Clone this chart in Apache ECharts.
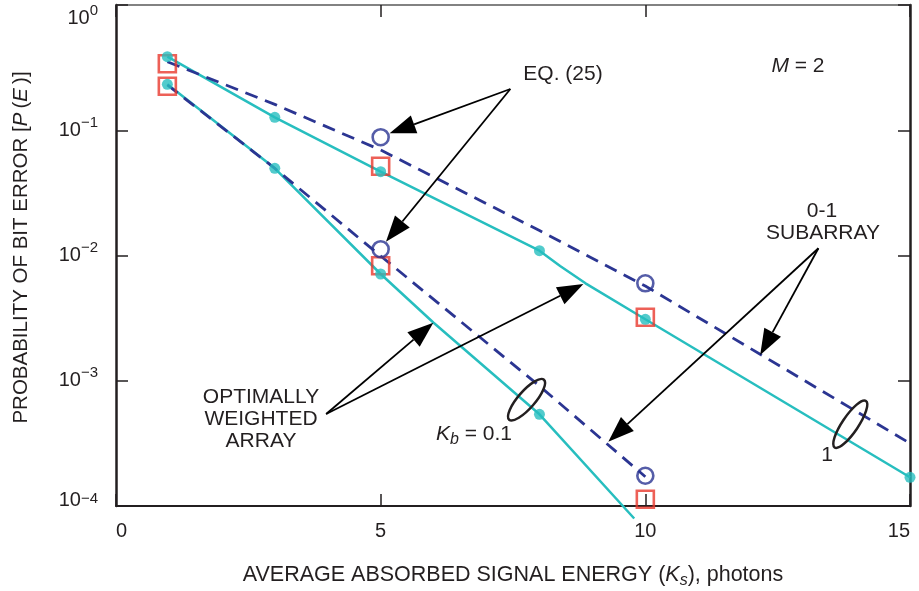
<!DOCTYPE html>
<html>
<head>
<meta charset="utf-8">
<title>Probability of bit error, M = 2</title>
<script src="https://cdn.jsdelivr.net/npm/echarts@6/dist/echarts.min.js"></script>
<style>
  html, body { margin: 0; padding: 0; background: #fff; }
  #chart { width: 919px; height: 591px; }
</style>
</head>
<body>
<div id="chart"></div>
<script>
// Optimally weighted array, Kb = 1 (solid curve) and its computed points
const xOptK1 = [0.97, 3, 5, 8, 8.39, 8.87, 10, 15];
const pOptK1 = [0.3867, 0.1269, 0.04668, 0.01092, 0.008245, 0.005998, 0.003095, 1.695e-4];
const xOptK1Pts = [0.97, 3, 5, 8, 10, 15];
const pOptK1Pts = [0.3867, 0.1269, 0.04668, 0.01092, 0.003095, 1.695e-4];

// Optimally weighted array, Kb = 0.1
const xOptK01 = [0.97, 3, 5, 6, 8, 9.79];
const pOptK01 = [0.2327, 0.04968, 0.007117, 0.002906, 5.398e-4, 7.945e-5];
const xOptK01Pts = [0.97, 3, 5, 8];
const pOptK01Pts = [0.2327, 0.04968, 0.007117, 5.398e-4];

// 0-1 subarray (dashed), Kb = 1 and Kb = 0.1
const xSubK1 = [0.97, 3, 5, 8, 10, 15];
const pSubK1 = [0.3526, 0.1609, 0.06956, 0.01583, 0.005706, 3.166e-4];
const xSubK01 = [0.97, 3, 5, 8, 10];
const pSubK01 = [0.2298, 0.04968, 0.009908, 9.08e-4, 1.714e-4];

// Eq. (25) evaluations (open circles)
const xEq25 = [5, 5, 10, 10];
const pEq25 = [0.08801, 0.01123, 0.005998, 1.745e-4];

// Open squares
const xSquares = [0.97, 0.97, 5, 5, 10, 10];
const pSquares = [0.3393, 0.2247, 0.05155, 0.008289, 0.003211, 1.131e-4];

// Axis ranges and tick values
const xTicks = [0, 5, 10, 15];
const yDecades = [1e-4, 1e-3, 1e-2, 1e-1, 1];

const FONT = '"Liberation Sans", Arial, Helvetica, sans-serif';
const INK = '#231F20';
const CYAN = '#27BEBF';
const NAVY = '#2B3592';
const RED = '#E8382D';

const pairs = (xs, ps) => xs.map((x, i) => [x, ps[i]]);

// Decade labels as 10 with a raised exponent; the end labels are nudged inside the frame
function decadeLabel(v) {
  const e = Math.round(Math.log10(v));
  const exp = e < 0 ? '\u2212' + (-e) : String(e);
  if (v <= yDecades[0] * 1.0001) return '{bLo|10}{sLo|' + exp + '}';
  if (v >= yDecades[yDecades.length - 1] * 0.9999) return '{gap| }\n{b|10}{s|' + exp + '}';
  return '{b|10}{s|' + exp + '}';
}

const tickStyle = { inside: true, length: 12, lineStyle: { color: INK, width: 1.5 } };
const supBase = { fontFamily: FONT, fontSize: 15, lineHeight: 15, verticalAlign: 'top', color: INK };
const numBase = { fontFamily: FONT, fontSize: 20, lineHeight: 30, color: INK };

const chart = echarts.init(document.getElementById('chart'), null, { renderer: 'canvas' });

chart.setOption({
  animation: false,
  backgroundColor: '#fff',
  grid: {
    left: 116, top: 5, width: 794, height: 501,
    containLabel: false, outerBoundsMode: 'none'
  },
  xAxis: [{
    type: 'value', position: 'bottom',
    min: xTicks[0], max: xTicks[xTicks.length - 1], interval: 5,
    axisLine: { show: true, onZero: false, lineStyle: { color: INK, width: 2 } },
    axisTick: tickStyle,
    splitLine: { show: false },
    axisLabel: {
      fontFamily: FONT, fontSize: 20, color: INK, margin: 15, lineHeight: 20,
      alignMinLabel: 'left', alignMaxLabel: 'right'
    },
    name: 'AVERAGE ABSORBED SIGNAL ENERGY ({i|K}{sub|s}), photons',
    nameLocation: 'middle', nameGap: 55,
    nameTextStyle: {
      fontFamily: FONT, fontSize: 21.5, color: INK, lineHeight: 28,
      rich: {
        i: { fontFamily: FONT, fontSize: 21.5, fontStyle: 'italic', lineHeight: 28, color: INK },
        sub: { fontFamily: FONT, fontSize: 16, fontStyle: 'italic', lineHeight: 15, verticalAlign: 'bottom', color: INK }
      }
    }
  }, {
    type: 'value', position: 'top',
    min: xTicks[0], max: xTicks[xTicks.length - 1], interval: 5,
    axisLine: { show: true, onZero: false, lineStyle: { color: '#5a5a5a', width: 1.5 } },
    axisTick: tickStyle,
    axisLabel: { show: false },
    splitLine: { show: false }
  }],
  yAxis: [{
    type: 'log', logBase: 10, position: 'left',
    min: yDecades[0], max: yDecades[yDecades.length - 1],
    axisLine: { show: true, onZero: false, lineStyle: { color: INK, width: 2.5 } },
    axisTick: tickStyle,
    minorTick: { show: false },
    splitLine: { show: false },
    axisLabel: {
      margin: 18,
      formatter: decadeLabel,
      rich: {
        b: numBase,
        s: supBase,
        bLo: Object.assign({}, numBase, { padding: [0, 0, 12, 0] }),
        sLo: supBase,
        gap: { fontFamily: FONT, fontSize: 2, lineHeight: 26, color: INK }
      }
    },
    name: 'PROBABILITY OF BIT ERROR [{i|P}\u2009({i|E}\u2009)]',
    nameLocation: 'middle', nameRotate: 90, nameGap: 84,
    nameTextStyle: {
      fontFamily: FONT, fontSize: 20.5, color: INK, padding: [0, 0, 0, 16],
      rich: { i: { fontFamily: FONT, fontSize: 20.5, fontStyle: 'italic', color: INK } }
    }
  }, {
    type: 'log', logBase: 10, position: 'right',
    min: yDecades[0], max: yDecades[yDecades.length - 1],
    axisLine: { show: true, onZero: false, lineStyle: { color: INK, width: 2.5 } },
    axisTick: tickStyle,
    minorTick: { show: false },
    axisLabel: { show: false },
    splitLine: { show: false }
  }],
  series: [
    {
      name: 'Optimally weighted, Kb = 1', type: 'line', z: 2, clip: false,
      data: pairs(xOptK1, pOptK1), showSymbol: false, symbol: 'none',
      lineStyle: { color: CYAN, width: 2.5 }
    },
    {
      name: 'Optimally weighted, Kb = 0.1', type: 'line', z: 2, clip: false,
      data: pairs(xOptK01, pOptK01), showSymbol: false, symbol: 'none',
      lineStyle: { color: CYAN, width: 2.5 }
    },
    {
      name: '0-1 subarray, Kb = 1', type: 'line', z: 3, clip: false,
      data: pairs(xSubK1, pSubK1), showSymbol: false, symbol: 'none',
      lineStyle: { color: NAVY, width: 2.8, type: [13, 8] }
    },
    {
      name: '0-1 subarray, Kb = 0.1', type: 'line', z: 3, clip: false,
      data: pairs(xSubK01, pSubK01), showSymbol: false, symbol: 'none',
      lineStyle: { color: NAVY, width: 2.8, type: [13, 8] }
    },
    {
      name: 'Squares', type: 'scatter', z: 4, clip: false,
      data: pairs(xSquares, pSquares), symbol: 'rect', symbolSize: 17,
      itemStyle: { color: 'rgba(0,0,0,0)', borderColor: RED, borderWidth: 2.6 }
    },
    {
      name: 'Eq. (25)', type: 'scatter', z: 4, clip: false,
      data: pairs(xEq25, pEq25), symbol: 'circle', symbolSize: 16,
      itemStyle: { color: 'rgba(0,0,0,0)', borderColor: NAVY, borderWidth: 2.6 }
    },
    {
      name: 'Kb = 1 points', type: 'scatter', z: 5, clip: false,
      data: pairs(xOptK1Pts, pOptK1Pts), symbol: 'circle', symbolSize: 11,
      itemStyle: { color: CYAN }
    },
    {
      name: 'Kb = 0.1 points', type: 'scatter', z: 5, clip: false,
      data: pairs(xOptK01Pts, pOptK01Pts), symbol: 'circle', symbolSize: 11,
      itemStyle: { color: CYAN }
    }
  ]
});

// ---- annotations: leader arrows, curve-pair ellipses and labels ----
const toPx = (pt) => chart.convertToPixel({ xAxisIndex: 0, yAxisIndex: 0 }, pt);

// arrows in data coordinates: [from, to]
const arrows = [
  [[7.45, 0.2135], [5.17, 0.09454]],
  [[7.45, 0.2135], [5.10, 0.01289]],
  [[13.27, 0.01142], [12.17, 0.001605]],
  [[13.27, 0.01142], [9.30, 3.262e-4]],
  [[3.97, 5.427e-4], [5.995, 0.002907]],
  [[3.97, 5.427e-4], [8.83, 0.005922]]
];
// ellipses grouping each pair of curves: center (data), semi-axes, tilt in degrees
const rings = [
  { at: [7.756, 7.059e-4], rx: 26.5, ry: 8.5, tilt: 49 },
  { at: [13.872, 4.498e-4], rx: 28, ry: 8, tilt: 56 }
];

const graphics = [];
const HEAD_LEN = 26, HEAD_W = 19;
arrows.forEach(([a, b]) => {
  const p0 = toPx(a), p1 = toPx(b);
  const dx = p1[0] - p0[0], dy = p1[1] - p0[1];
  const len = Math.hypot(dx, dy);
  const ux = dx / len, uy = dy / len;
  const bx = p1[0] - ux * HEAD_LEN, by = p1[1] - uy * HEAD_LEN;
  const nx = -uy * HEAD_W / 2, ny = ux * HEAD_W / 2;
  graphics.push({
    type: 'line', z: 100, silent: true,
    shape: { x1: p0[0], y1: p0[1], x2: bx, y2: by },
    style: { stroke: '#000', lineWidth: 1.8 }
  });
  graphics.push({
    type: 'polygon', z: 100, silent: true,
    shape: { points: [[p1[0], p1[1]], [bx + nx, by + ny], [bx - nx, by - ny]] },
    style: { fill: '#000' }
  });
});
rings.forEach((r) => {
  const c = toPx(r.at);
  graphics.push({
    type: 'ellipse', z: 100, silent: true,
    x: c[0], y: c[1], rotation: r.tilt * Math.PI / 180,
    shape: { cx: 0, cy: 0, rx: r.rx, ry: r.ry },
    style: { fill: 'none', stroke: INK, lineWidth: 2.5 }
  });
});

const txt = (x, y, text, extra) => Object.assign({
  type: 'text', z: 100, silent: true, x: x, y: y,
  style: Object.assign({
    text: text, fill: INK, fontFamily: FONT, fontSize: 21,
    align: 'center', verticalAlign: 'middle'
  }, extra || {})
});
const italicRich = {
  i: { fontFamily: FONT, fontSize: 21, fontStyle: 'italic', lineHeight: 28, fill: INK, color: INK },
  n: { fontFamily: FONT, fontSize: 21, lineHeight: 28, fill: INK, color: INK },
  sub: { fontFamily: FONT, fontSize: 16, fontStyle: 'italic', lineHeight: 15, verticalAlign: 'bottom', fill: INK, color: INK }
};

graphics.push(txt(563, 74, 'EQ. (25)'));
graphics.push(txt(798, 66, '{i|M}{n| = 2}', { rich: italicRich }));
graphics.push(txt(822, 211, '0-1'));
graphics.push(txt(823, 233, 'SUBARRAY'));
graphics.push(txt(261, 397, 'OPTIMALLY'));
graphics.push(txt(261, 419, 'WEIGHTED'));
graphics.push(txt(261, 441, 'ARRAY'));
graphics.push(txt(436, 434, '{i|K}{sub|b}{n| = 0.1}', { rich: italicRich, align: 'left' }));
graphics.push(txt(827, 455, '1'));

chart.setOption({ graphic: graphics });
</script>
</body>
</html>
